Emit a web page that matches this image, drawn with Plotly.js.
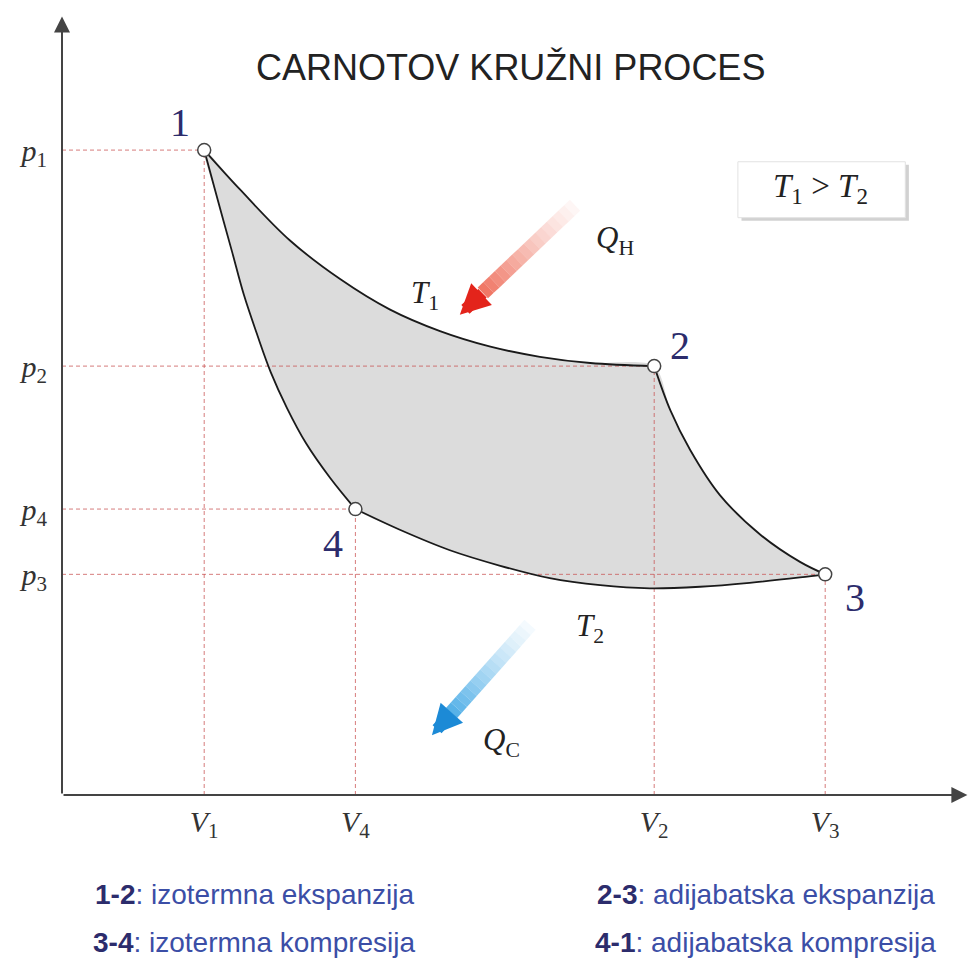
<!DOCTYPE html>
<html>
<head>
<meta charset="utf-8">
<script src="https://cdn.plot.ly/plotly-3.0.1.min.js"></script>
<style>
  body { margin: 0; background: #fff; }
  #chart { width: 968px; height: 965px; }
</style>
</head>
<body>
<div id="chart"></div>
<script>
// state points of the cycle (V, p) in arbitrary units
const pointLabels = ['1', '2', '3', '4']
const pointV = [15.8, 65.8, 84.8, 32.6]
const pointP = [83.0, 55.2, 28.4, 36.8]

const vTicks = ['<i>V</i><sub>1</sub>', '<i>V</i><sub>2</sub>', '<i>V</i><sub>3</sub>', '<i>V</i><sub>4</sub>']
const pTicks = ['<i>p</i><sub>1</sub>', '<i>p</i><sub>2</sub>', '<i>p</i><sub>3</sub>', '<i>p</i><sub>4</sub>']

// process curves
const iso12V = [15.8, 19.8, 25.3, 30.9, 36.4, 42.0, 47.6, 53.1, 58.7, 65.8]
const iso12P = [83.0, 77.9, 71.4, 66.4, 62.5, 59.7, 57.7, 56.4, 55.6, 55.2]
const adi23V = [65.8, 67.6, 69.8, 73.1, 77.6, 82.0, 84.8]
const adi23P = [55.2, 49.5, 44.4, 38.6, 33.5, 30.0, 28.4]
const iso34V = [84.8, 82.0, 76.4, 70.9, 65.3, 59.8, 54.2, 48.7, 43.1, 37.6, 32.6]
const iso34P = [28.4, 28.0, 27.3, 26.8, 26.6, 27.0, 27.9, 29.5, 31.5, 34.1, 36.8]
const adi41V = [32.6, 29.8, 27.1, 25.0, 23.2, 21.7, 20.2, 18.9, 17.3, 15.8]
const adi41P = [36.8, 40.8, 45.3, 49.8, 54.4, 59.2, 64.4, 69.9, 76.6, 83.0]

const legendKeys = ['1-2', '3-4', '2-3', '4-1']
const legendTexts = ['izotermna ekspanzija', 'izotermna kompresija', 'adijabatska ekspanzija', 'adijabatska kompresija']

const serif = 'Liberation Serif, DejaVu Serif, serif'
const sans = 'Liberation Sans, Arial, sans-serif'
const navy = '#2c2c6c'
const guideColor = 'rgba(200,80,80,0.75)'

const curveTrace = (x, y) => ({
  type: 'scatter', mode: 'lines', x: x, y: y,
  line: {color: '#1a1a1a', width: 1.8, shape: 'spline', smoothing: 1},
  hoverinfo: 'skip'
})

const guideTraces = () => {
  const traces = []
  for (let i = 0; i < pointV.length; i++) {
    traces.push({
      type: 'scatter', mode: 'lines',
      x: [0, pointV[i]], y: [pointP[i], pointP[i]],
      line: {color: guideColor, width: 1, dash: '4px,3px'}, hoverinfo: 'skip'
    })
    traces.push({
      type: 'scatter', mode: 'lines',
      x: [pointV[i], pointV[i]], y: [0, pointP[i]],
      line: {color: guideColor, width: 1, dash: '4px,3px'}, hoverinfo: 'skip'
    })
  }
  return traces
}

// gradient shaft made of short segments, alpha rising toward the head
const fadeShaft = (tail, tip, rgb, n, width) => {
  const shapes = []
  const stop = 0.8
  for (let i = 0; i < n; i++) {
    const a = i / n * stop, b = (i + 1) / n * stop
    shapes.push({
      type: 'line', xref: 'x', yref: 'y', layer: 'above',
      x0: tail[0] + (tip[0] - tail[0]) * a, y0: tail[1] + (tip[1] - tail[1]) * a,
      x1: tail[0] + (tip[0] - tail[0]) * b, y1: tail[1] + (tip[1] - tail[1]) * b,
      line: {color: 'rgba(' + rgb + ',' + (0.04 + 0.86 * Math.pow((i + 1) / n, 1.3)).toFixed(2) + ')', width: width}
    })
  }
  return shapes
}

const heatArrow = (tail, tip, color) => {
  const base = [tail[0] + (tip[0] - tail[0]) * 0.79, tail[1] + (tip[1] - tail[1]) * 0.79]
  return {
    x: tip[0], y: tip[1], ax: base[0], ay: base[1], axref: 'x', ayref: 'y',
    text: '', showarrow: true, arrowhead: 2, arrowsize: 0.5, arrowwidth: 12,
    arrowcolor: color
  }
}

const qhTail = [57.0, 75.9], qhTip = [44.2, 61.8]
const qcTail = [52.0, 21.9], qcTip = [41.1, 7.7]

const data = [
  {
    type: 'scatter', mode: 'lines',
    x: iso12V.concat(adi23V.slice(1), iso34V.slice(1), adi41V.slice(1)),
    y: iso12P.concat(adi23P.slice(1), iso34P.slice(1), adi41P.slice(1)),
    fill: 'toself', fillcolor: '#dcdcdc',
    line: {width: 0, shape: 'spline', smoothing: 0.8}, hoverinfo: 'skip'
  },
  ...guideTraces(),
  curveTrace(iso12V, iso12P),
  curveTrace(adi23V, adi23P),
  curveTrace(iso34V, iso34P),
  curveTrace(adi41V, adi41P),
  {
    type: 'scatter', mode: 'markers', x: pointV, y: pointP,
    marker: {size: 13, color: '#ffffff', line: {color: '#444', width: 1.5}},
    hoverinfo: 'skip'
  }
]

const ann = (x, y, text, size, color, family, extra) => Object.assign({
  x: x, y: y, xref: 'x', yref: 'y', text: text, showarrow: false,
  font: {family: family, size: size, color: color}
}, extra || {})

const annotations = [
  // axes with arrow tips
  {x: 100.6, y: 0, ax: 0, ay: 0, axref: 'x', ayref: 'y', text: '', showarrow: true,
   arrowhead: 2, arrowsize: 1.6, arrowwidth: 2, arrowcolor: '#444'},
  {x: 0, y: 100.2, ax: 0, ay: 0, axref: 'x', ayref: 'y', text: '', showarrow: true,
   arrowhead: 2, arrowsize: 1.6, arrowwidth: 2, arrowcolor: '#444'},
  ann(49.8, 93.6, 'CARNOTOV KRUŽNI PROCES', 36, '#222', sans),
  ann(13.1, 86.6, pointLabels[0], 40, navy, serif),
  ann(68.7, 57.9, pointLabels[1], 40, navy, serif),
  ann(88.1, 25.4, pointLabels[2], 40, navy, serif),
  ann(30.1, 32.4, pointLabels[3], 40, navy, serif),
  ann(40.3, 64.4, '<i>T</i><sub>1</sub>', 31, '#222', serif),
  ann(58.7, 21.5, '<i>T</i><sub>2</sub>', 31, '#222', serif),
  ann(61.4, 71.4, '<i>Q</i><sub>H</sub>', 31, '#222', serif),
  ann(48.8, 6.8, '<i>Q</i><sub>C</sub>', 31, '#222', serif),
  ann(84.3, 78.0, '<i>T</i><sub>1</sub> > <i>T</i><sub>2</sub>', 33, '#222', serif),
  heatArrow(qhTail, qhTip, '#e3241b'),
  heatArrow(qcTail, qcTip, '#1c8ad6')
]

for (let i = 0; i < legendKeys.length; i++) {
  annotations.push({
    xref: 'paper', yref: 'paper', xanchor: 'center', yanchor: 'middle',
    x: i < 2 ? 0.214 : 0.782, y: i % 2 === 0 ? -0.128 : -0.19,
    text: '<b>' + legendKeys[i] + '</b><span style="color:#3b4ea6">: ' + legendTexts[i] + '</span>',
    showarrow: false, font: {family: sans, size: 28, color: navy}
  })
}

const shapes = [
  // T1 > T2 box with a soft shadow
  {type: 'rect', xref: 'x', yref: 'y', x0: 75.5, x1: 94.1, y0: 73.9, y1: 81.1,
   line: {width: 0}, fillcolor: 'rgba(0,0,0,0.18)', layer: 'below'},
  {type: 'rect', xref: 'x', yref: 'y', x0: 75.1, x1: 93.7, y0: 74.3, y1: 81.5,
   line: {width: 1, color: '#e2e2e2'}, fillcolor: '#fff', layer: 'below'},
  ...fadeShaft(qhTail, qhTip, '238,105,85', 16, 15),
  ...fadeShaft(qcTail, qcTip, '70,170,230', 16, 15)
]

const layout = {
  width: 968, height: 965,
  margin: {l: 62, r: 6, t: 18, b: 170},
  paper_bgcolor: '#fff', plot_bgcolor: '#fff',
  showlegend: false,
  xaxis: {
    range: [0, 100], showgrid: false, zeroline: false, showline: false,
    tickvals: pointV, ticktext: vTicks, ticks: '', ticklabelstandoff: 6,
    tickfont: {family: serif, size: 30, color: '#333'}, fixedrange: true
  },
  yaxis: {
    range: [0, 100], showgrid: false, zeroline: false, showline: false,
    tickvals: pointP, ticktext: pTicks, ticks: '', ticklabelstandoff: 14,
    tickfont: {family: serif, size: 30, color: '#333'}, fixedrange: true
  },
  annotations: annotations,
  shapes: shapes
}

Plotly.newPlot('chart', data, layout, {displayModeBar: false, staticPlot: true})
</script>
</body>
</html>
